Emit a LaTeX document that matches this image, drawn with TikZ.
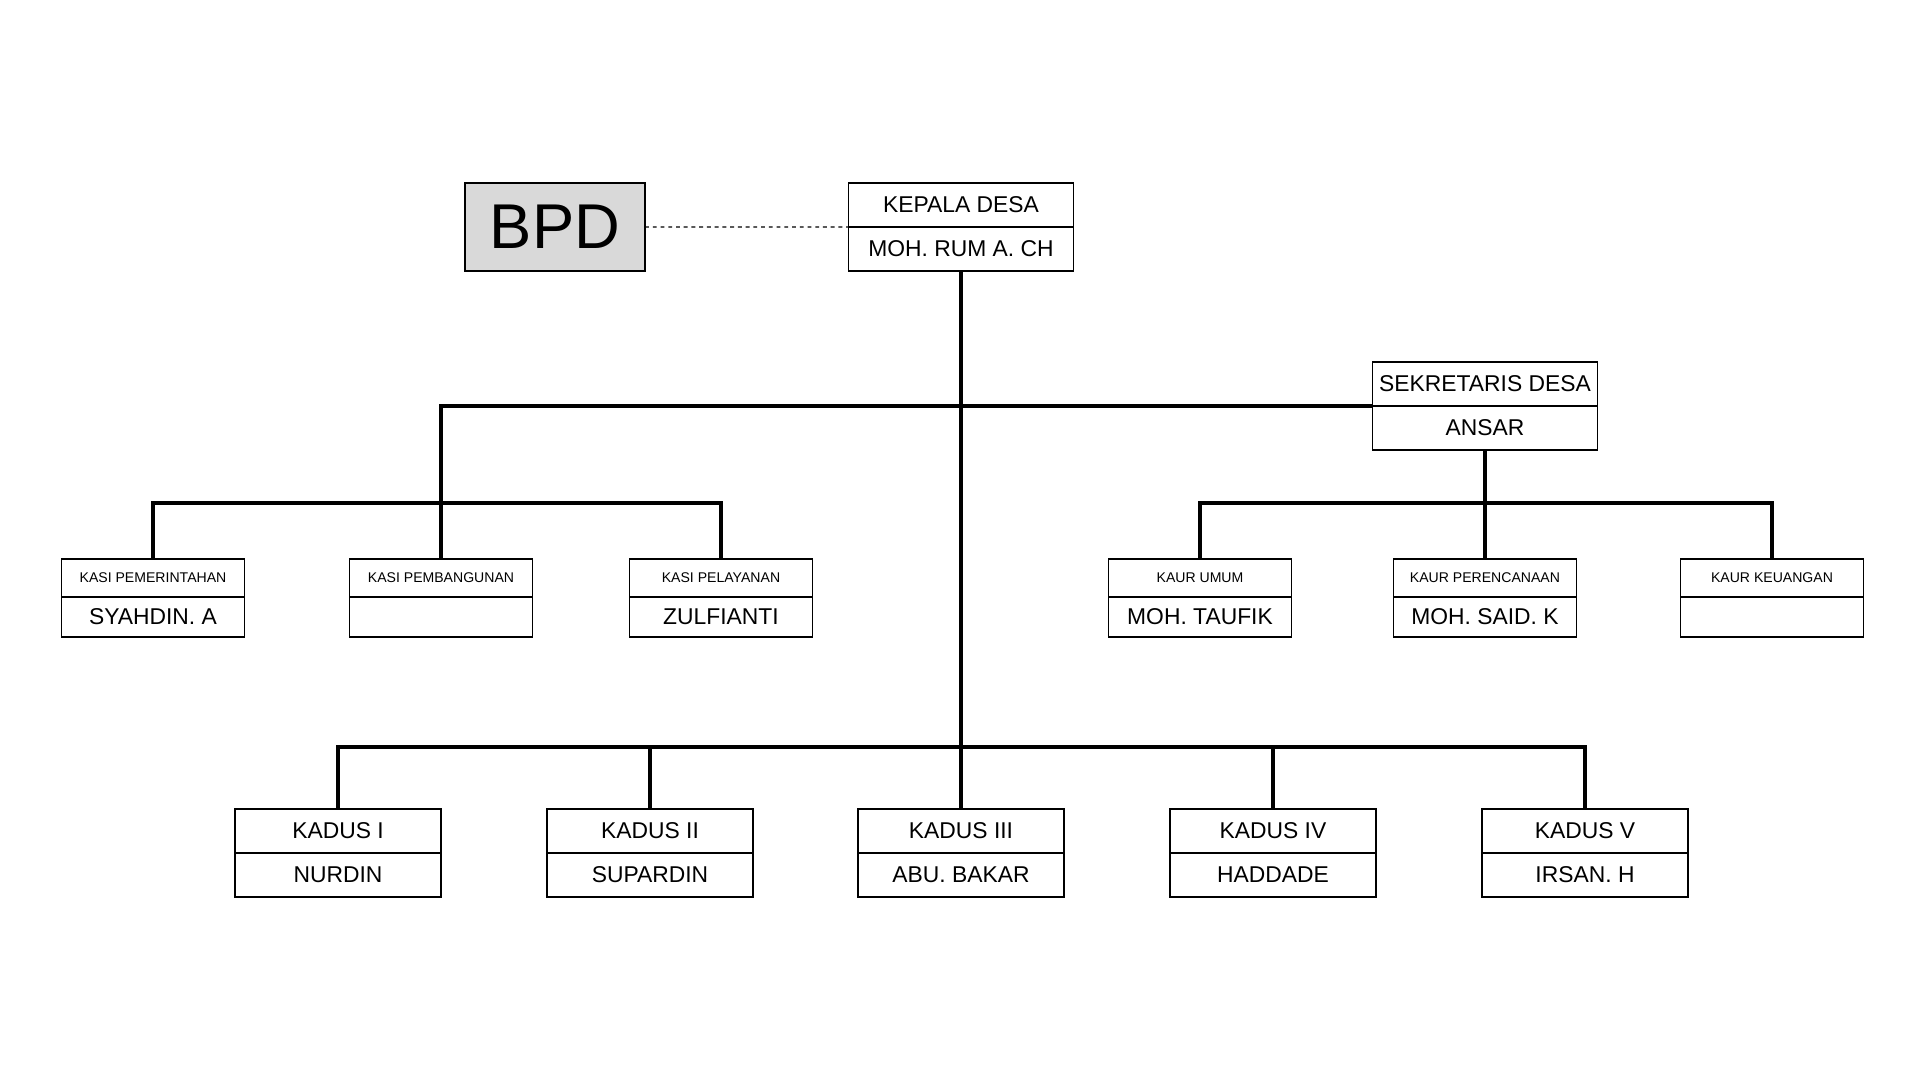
\documentclass[tikz,border=0pt]{standalone}
\usepackage{fontspec}
\setmainfont{Liberation Sans}
\usetikzlibrary{positioning}
\definecolor{abu}{HTML}{D9D9D9}
\begin{document}
\begin{tikzpicture}[x=0.01cm,y=-0.01cm,
	jabatan/.style={draw, line width=0.5pt, inner sep=0pt, outer sep=0pt, minimum width=2.25cm, minimum height=0.44cm, font=\fontsize{6.5}{7}\selectfont},
	kecil/.style={draw, line width=0.5pt, inner sep=0pt, outer sep=0pt, minimum width=1.83cm, minimum height=0.38cm, font=\fontsize{4}{5}\selectfont},
	nama/.style={draw, line width=0.5pt, inner sep=0pt, outer sep=0pt, minimum width=1.83cm, minimum height=0.40cm, font=\fontsize{6.5}{7}\selectfont},
	kadus/.style={jabatan, minimum width=2.06cm},
	garis/.style={line width=0.95pt},
	putus/.style={line width=0.35pt, dash pattern=on 1.1pt off 1.1pt}]
	\useasboundingbox (0,0) rectangle (1920,1080);
	% kepala desa dan BPD
	\node[jabatan] (kdJ) at (961,205) {KEPALA DESA};
	\node[jabatan, below=0pt of kdJ] (kdN) {MOH. RUM A. CH};
	\node[draw, line width=0.5pt, outer sep=0pt, fill=abu, minimum width=1.8cm, minimum height=0.88cm, font=\fontsize{18}{20}\selectfont] (bpd) at (555,227) {BPD};
	\draw[putus] (bpd.east) -- (kdJ.south west);
	% sekretaris desa
	\node[jabatan] (sdJ) at (1485,384) {SEKRETARIS DESA};
	\node[jabatan, below=0pt of sdJ] (sdN) {ANSAR};
	% kasi
	\node[kecil] (ksPm) at (153,578) {KASI PEMERINTAHAN};
	\node[nama, below=0pt of ksPm] (ksPmN) {SYAHDIN. A};
	\node[kecil] (ksBg) at (441,578) {KASI PEMBANGUNAN};
	\node[nama, below=0pt of ksBg] (ksBgN) {};
	\node[kecil] (ksPl) at (721,578) {KASI PELAYANAN};
	\node[nama, below=0pt of ksPl] (ksPlN) {ZULFIANTI};
	% kaur
	\node[kecil] (kuU) at (1200,578) {KAUR UMUM};
	\node[nama, below=0pt of kuU] (kuUN) {MOH. TAUFIK};
	\node[kecil] (kuP) at (1485,578) {KAUR PERENCANAAN};
	\node[nama, below=0pt of kuP] (kuPN) {MOH. SAID. K};
	\node[kecil] (kuK) at (1772,578) {KAUR KEUANGAN};
	\node[nama, below=0pt of kuK] (kuKN) {};
	% kadus
	\node[kadus] (kd1J) at (338,831) {KADUS I};
	\node[kadus, below=0pt of kd1J] (kd1N) {NURDIN};
	\node[kadus] (kd2J) at (650,831) {KADUS II};
	\node[kadus, below=0pt of kd2J] (kd2N) {SUPARDIN};
	\node[kadus] (kd3J) at (961,831) {KADUS III};
	\node[kadus, below=0pt of kd3J] (kd3N) {ABU. BAKAR};
	\node[kadus] (kd4J) at (1273,831) {KADUS IV};
	\node[kadus, below=0pt of kd4J] (kd4N) {HADDADE};
	\node[kadus] (kd5J) at (1585,831) {KADUS V};
	\node[kadus, below=0pt of kd5J] (kd5N) {IRSAN. H};
	% garis
	\coordinate (kasi) at (441,503);
	\coordinate (kaur) at (1485,503);
	\coordinate (dusun) at (961,747);
	\draw[garis] (kdN.south) -- (kd3J.north);
	\draw[garis] (sdJ.south west) -| (kasi);
	\draw[garis] (ksPm.north) |- (kasi) -| (ksPl.north);
	\draw[garis] (ksBg.north) -- (kasi);
	\draw[garis] (sdN.south) -- (kaur);
	\draw[garis] (kuU.north) |- (kaur) -| (kuK.north);
	\draw[garis] (kuP.north) -- (kaur);
	\draw[garis] (kd1J.north) |- (dusun) -| (kd5J.north);
	\draw[garis] (kd2J.north) |- (dusun);
	\draw[garis] (kd4J.north) |- (dusun);
\end{tikzpicture}
\end{document}
